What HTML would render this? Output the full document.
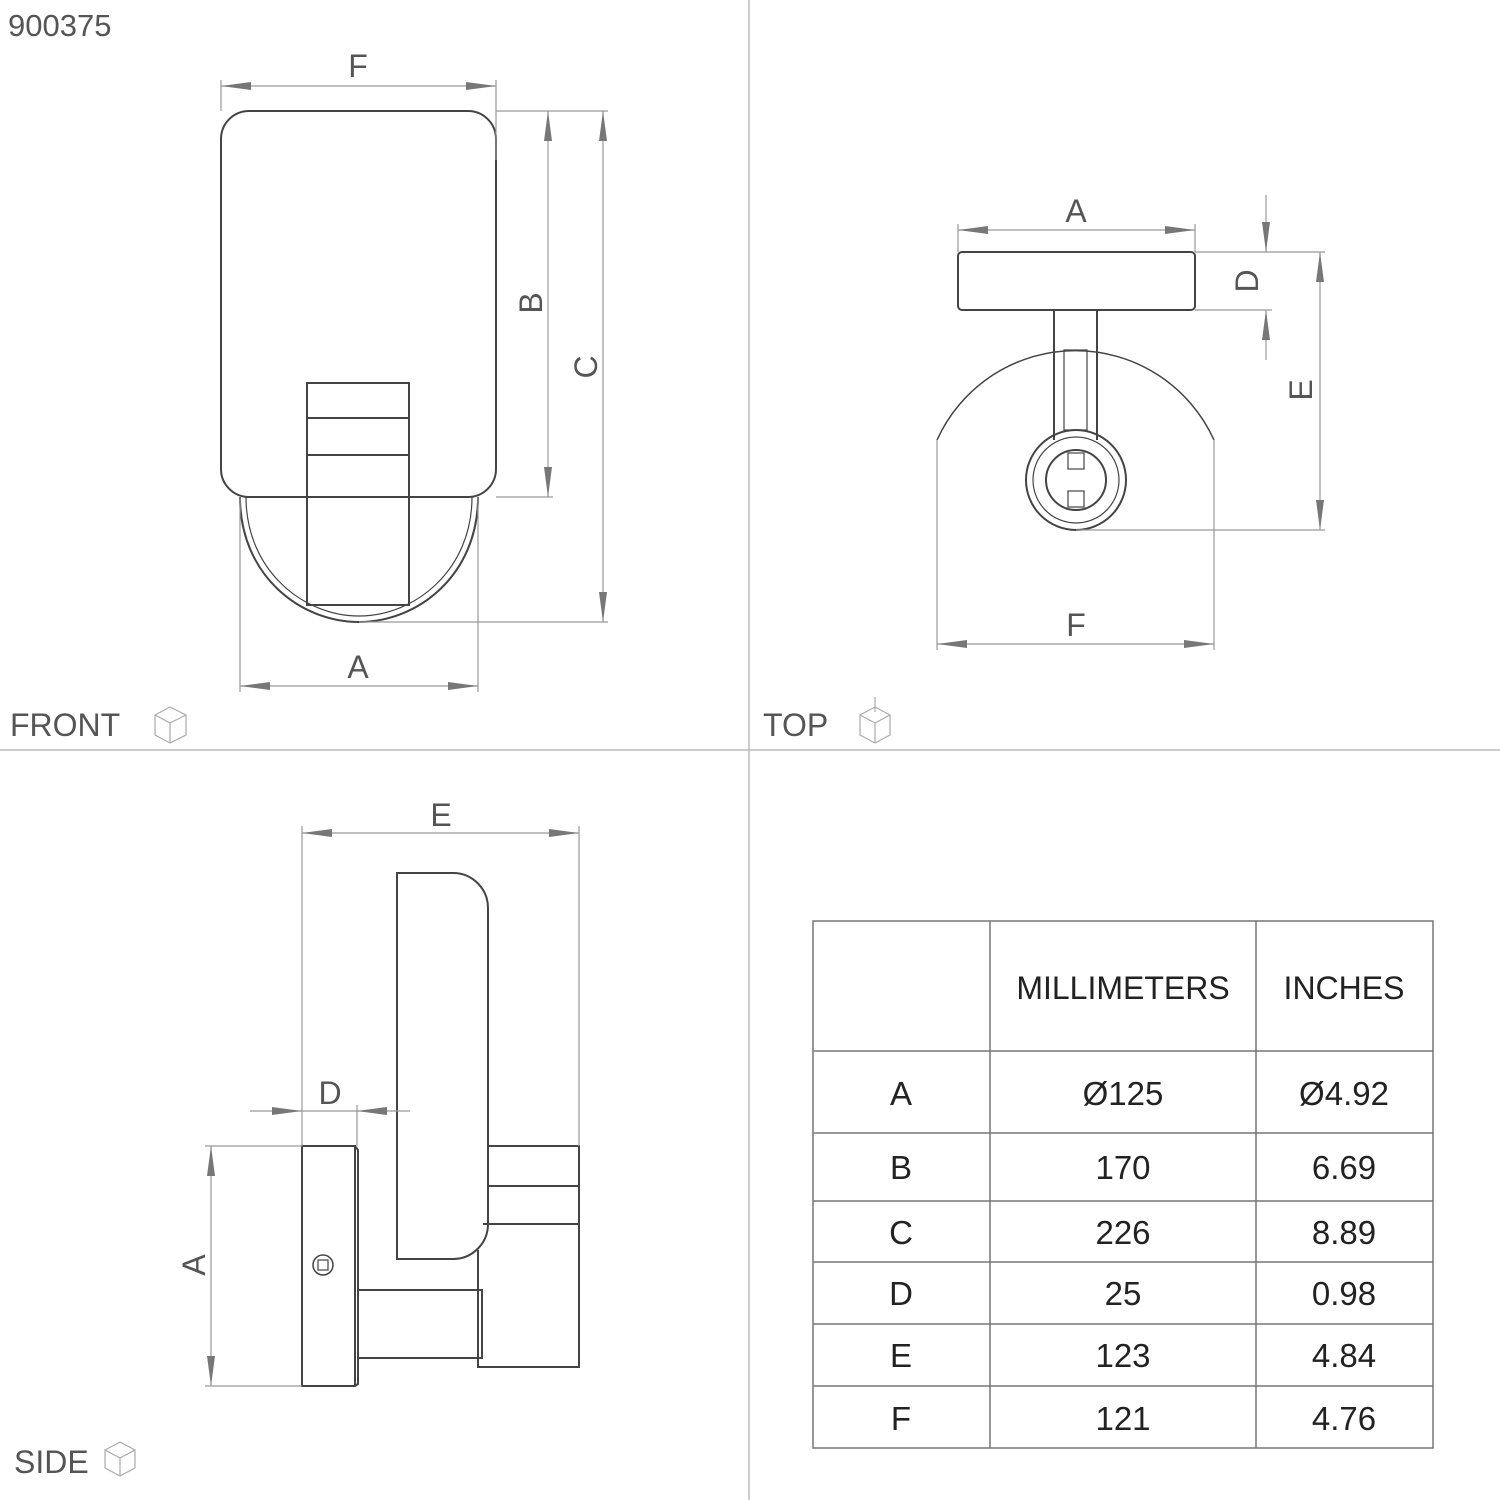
<!DOCTYPE html>
<html><head><meta charset="utf-8"><style>
html,body{margin:0;padding:0;background:#fff}
svg{display:block}
text{font-family:"Liberation Sans",sans-serif;fill:#555}
</style></head><body>
<svg width="1500" height="1500" viewBox="0 0 1500 1500" xmlns="http://www.w3.org/2000/svg">
<defs>
<marker id="ar" viewBox="0 0 30 10" refX="30" refY="5" markerWidth="30" markerHeight="10" markerUnits="userSpaceOnUse" orient="auto-start-reverse">
<path d="M0,1 L30,5 L0,9 Z" fill="#777"/></marker>
</defs>
<rect width="1500" height="1500" fill="#fff"/>
<g stroke="#bbb" stroke-width="1.5">
<line x1="749" y1="0" x2="749" y2="1500"/>
<line x1="0" y1="750" x2="1500" y2="750"/>
</g>
<text x="8" y="36" font-size="31">900375</text>
<text x="10" y="736" font-size="32">FRONT</text>
<text x="763" y="736" font-size="32">TOP</text>
<text x="14" y="1473" font-size="32">SIDE</text>
<g stroke="#aaa" stroke-width="1.2" fill="none">
<path d="M155,715 L170,707 L186,715 L186,735 L170,743 L155,735 Z M155,715 L170,723 L186,715 M170,723 L170,743"/>
<path d="M860,715 L875,707 L890,715 L890,735 L875,743 L860,735 Z M860,715 L875,723 L890,715 M875,723 L875,743 M875,697 L875,712"/>
<path d="M105,1450 L120,1442 L135,1450 L135,1468 L120,1476 L105,1468 Z M105,1450 L120,1458 L135,1450 M120,1458 L120,1476"/>
</g>

<!-- FRONT -->
<g fill="none" stroke="#444" stroke-width="2">
<rect x="221" y="111" width="275" height="386" rx="28"/>
<path d="M240,497 C240,575 300,622 359,622 C418,622 478,575 478,497"/>
<path d="M246,497 C246,570 303,616 359,616 C415,616 472,570 472,497" stroke-width="1.2"/>
<rect x="307" y="383" width="102" height="222"/>
<line x1="307" y1="418" x2="409" y2="418"/>
<line x1="307" y1="455" x2="409" y2="455"/>
</g>
<g stroke="#999" stroke-width="1.2" fill="none">
<line x1="221" y1="80" x2="221" y2="111"/><line x1="496" y1="80" x2="496" y2="160"/>
<line x1="496" y1="111" x2="608" y2="111"/><line x1="496" y1="497" x2="553" y2="497"/>
<line x1="359" y1="622" x2="608" y2="622"/>
<line x1="240" y1="497" x2="240" y2="692"/><line x1="478" y1="497" x2="478" y2="692"/>
<line x1="221" y1="86" x2="496" y2="86" marker-start="url(#ar)" marker-end="url(#ar)"/>
<line x1="548" y1="111" x2="548" y2="497" marker-start="url(#ar)" marker-end="url(#ar)"/>
<line x1="603" y1="111" x2="603" y2="622" marker-start="url(#ar)" marker-end="url(#ar)"/>
<line x1="240" y1="686" x2="478" y2="686" marker-start="url(#ar)" marker-end="url(#ar)"/>
</g>
<text x="358" y="77" font-size="32" text-anchor="middle">F</text>
<text x="358" y="678" font-size="32" text-anchor="middle">A</text>
<text transform="translate(542,303) rotate(-90)" font-size="32" text-anchor="middle">B</text>
<text transform="translate(597,367) rotate(-90)" font-size="32" text-anchor="middle">C</text>

<!-- TOP -->
<g fill="none" stroke="#444" stroke-width="2">
<rect x="958" y="252" width="237" height="58" rx="4"/>
<line x1="1054" y1="310" x2="1054" y2="440"/><line x1="1097" y1="310" x2="1097" y2="440"/>
<rect x="1064" y="350" width="23" height="80" stroke-width="1.2"/>
<path d="M937,440 A152,152 0 0 1 1214,440" stroke-width="1.5"/>
<circle cx="1076" cy="480" r="50"/>
<circle cx="1076" cy="480" r="43" stroke-width="1.2"/>
<circle cx="1076" cy="480" r="30"/>
<rect x="1068" y="453" width="16" height="16" stroke-width="1.2"/>
<rect x="1068" y="491" width="16" height="16" stroke-width="1.2"/>
</g>
<g stroke="#999" stroke-width="1.2" fill="none">
<line x1="958" y1="224" x2="958" y2="252"/><line x1="1195" y1="224" x2="1195" y2="252"/>
<line x1="1195" y1="252" x2="1325" y2="252"/><line x1="1195" y1="310" x2="1272" y2="310"/>
<line x1="1076" y1="530" x2="1325" y2="530"/>
<line x1="937" y1="440" x2="937" y2="650"/><line x1="1214" y1="440" x2="1214" y2="650"/>
<line x1="958" y1="230" x2="1195" y2="230" marker-start="url(#ar)" marker-end="url(#ar)"/>
<line x1="1266" y1="195" x2="1266" y2="252" marker-end="url(#ar)"/>
<line x1="1266" y1="360" x2="1266" y2="310" marker-end="url(#ar)"/>
<line x1="1320" y1="252" x2="1320" y2="530" marker-start="url(#ar)" marker-end="url(#ar)"/>
<line x1="937" y1="644" x2="1214" y2="644" marker-start="url(#ar)" marker-end="url(#ar)"/>
</g>
<text x="1076" y="222" font-size="32" text-anchor="middle">A</text>
<text x="1076" y="636" font-size="32" text-anchor="middle">F</text>
<text transform="translate(1258,281) rotate(-90)" font-size="32" text-anchor="middle">D</text>
<text transform="translate(1312,390) rotate(-90)" font-size="32" text-anchor="middle">E</text>

<!-- SIDE -->
<g fill="none" stroke="#444" stroke-width="2">
<path d="M397,873 L453,873 A35,35 0 0 1 488,908 L488,1224 A35,35 0 0 1 453,1259 L397,1259 Z"/>
<rect x="302" y="1146" width="53" height="240"/>
<path d="M355,1146 L358,1150 L358,1384 L355,1386"/>
<rect x="358" y="1290" width="124" height="68"/>
<path d="M488,1146 L579,1146 L579,1367 L478,1367 L478,1250"/>
<line x1="488" y1="1186" x2="579" y2="1186"/>
<line x1="483" y1="1224" x2="579" y2="1224"/>
<circle cx="323" cy="1265" r="10" stroke-width="1.5"/>
<rect x="318" y="1260" width="10" height="10" stroke-width="1.2"/>
</g>
<g stroke="#999" stroke-width="1.2" fill="none">
<line x1="302" y1="826" x2="302" y2="1146"/><line x1="579" y1="826" x2="579" y2="1146"/>
<line x1="357" y1="1105" x2="357" y2="1146"/>
<line x1="205" y1="1146" x2="302" y2="1146"/><line x1="205" y1="1386" x2="302" y2="1386"/>
<line x1="302" y1="833" x2="579" y2="833" marker-start="url(#ar)" marker-end="url(#ar)"/>
<line x1="250" y1="1111" x2="302" y2="1111" marker-end="url(#ar)"/>
<line x1="410" y1="1111" x2="357" y2="1111" marker-end="url(#ar)"/>
<line x1="302" y1="1111" x2="357" y2="1111"/>
<line x1="211" y1="1146" x2="211" y2="1386" marker-start="url(#ar)" marker-end="url(#ar)"/>
</g>
<text x="441" y="826" font-size="32" text-anchor="middle">E</text>
<text x="330" y="1104" font-size="32" text-anchor="middle">D</text>
<text transform="translate(205,1265) rotate(-90)" font-size="32" text-anchor="middle">A</text>

<!-- TABLE -->
<g stroke="#777" stroke-width="1.5" fill="none">
<rect x="813" y="921" width="620" height="527"/>
<line x1="990" y1="921" x2="990" y2="1448"/><line x1="1256" y1="921" x2="1256" y2="1448"/>
<line x1="813" y1="1051" x2="1433" y2="1051"/>
<line x1="813" y1="1133" x2="1433" y2="1133"/>
<line x1="813" y1="1201" x2="1433" y2="1201"/>
<line x1="813" y1="1262" x2="1433" y2="1262"/>
<line x1="813" y1="1324" x2="1433" y2="1324"/>
<line x1="813" y1="1386" x2="1433" y2="1386"/>
</g>
<g font-size="33" text-anchor="middle">
<text x="1123" y="999" style="fill:#222" font-size="32">MILLIMETERS</text>
<text x="1344" y="999" style="fill:#222" font-size="32">INCHES</text>
<text x="901" y="1105" style="fill:#222">A</text><text x="1123" y="1105" style="fill:#222">Ø125</text><text x="1344" y="1105" style="fill:#222">Ø4.92</text>
<text x="901" y="1179" style="fill:#222">B</text><text x="1123" y="1179" style="fill:#222">170</text><text x="1344" y="1179" style="fill:#222">6.69</text>
<text x="901" y="1244" style="fill:#222">C</text><text x="1123" y="1244" style="fill:#222">226</text><text x="1344" y="1244" style="fill:#222">8.89</text>
<text x="901" y="1305" style="fill:#222">D</text><text x="1123" y="1305" style="fill:#222">25</text><text x="1344" y="1305" style="fill:#222">0.98</text>
<text x="901" y="1367" style="fill:#222">E</text><text x="1123" y="1367" style="fill:#222">123</text><text x="1344" y="1367" style="fill:#222">4.84</text>
<text x="901" y="1430" style="fill:#222">F</text><text x="1123" y="1430" style="fill:#222">121</text><text x="1344" y="1430" style="fill:#222">4.76</text>
</g>
</svg>
</body></html>
